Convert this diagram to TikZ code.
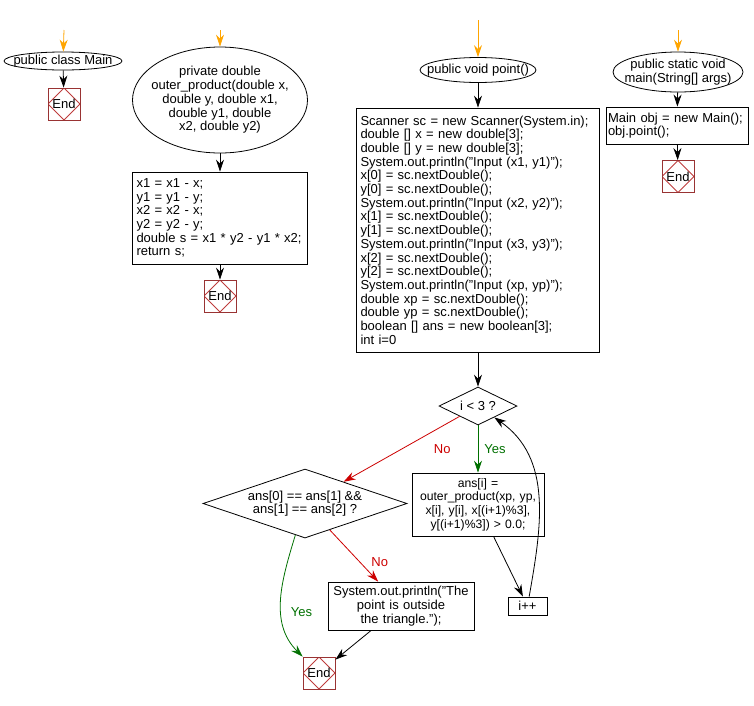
\documentclass[tikz,border=0pt]{standalone}
\usepackage{fontspec}
\setmainfont{Liberation Sans}
\usetikzlibrary{shapes.geometric,arrows.meta}
\definecolor{startorange}{RGB}{255,165,0}
\definecolor{endred}{RGB}{153,51,51}
\definecolor{endline}{RGB}{190,60,60}
\definecolor{nored}{RGB}{204,0,0}
\definecolor{yesgreen}{RGB}{0,112,0}

\tikzset{
    every node/.style={font=\fontsize{13}{13.7}\selectfont},
    arr/.style={line width=0.8pt, -{Stealth[length=12pt,width=8pt]}},
    startarr/.style={arr, startorange},
    startend/.style={draw, line width=0.8pt, ellipse, inner xsep=-11pt, inner ysep=0pt, align=center},
    codebox/.style={draw, line width=0.8pt, rectangle, inner xsep=4pt, inner ysep=0pt},
    decision/.style={draw, line width=0.8pt, diamond, inner sep=0pt, align=center},
    endbox/.style={draw=endred, line width=0.8pt, minimum size=32pt, inner sep=0pt,
        path picture={\draw[endline, line width=0.8pt] (path picture bounding box.north) -- (path picture bounding box.east)
            -- (path picture bounding box.south) -- (path picture bounding box.west) -- cycle;}}
}

\begin{document}
\begin{tikzpicture}[x=1pt, y=-1pt]
    \useasboundingbox (0,0) rectangle (754,705);

    % class Main
    \coordinate (clsin) at (64,30);
    \node[startend, minimum width=118pt, minimum height=18pt] (cls) at (63,61) {public class Main};
    \node[endbox] (clsend) at (64,104) {End};
    \draw[startarr] (clsin) -- (cls);
    \draw[arr] (cls) -- (clsend);

    % outer_product
    \coordinate (opin) at (220,30);
    \node[startend, minimum width=175pt, minimum height=106pt] (op) at (220,100)
        {private double\\ outer\_product(double x,\\ double y, double x1,\\ double y1, double\\ x2, double y2)};
    \node[codebox, minimum width=175pt, minimum height=92pt, text width=167pt, align=left] (opbody) at (220,218)
        {x1 = x1 - x;\\ y1 = y1 - y;\\ x2 = x2 - x;\\ y2 = y2 - y;\\ double s = x1 * y2 - y1 * x2;\\ return s;};
    \node[endbox] (opend) at (220,296) {End};
    \draw[startarr] (opin) -- (op);
    \draw[arr] (op) -- (opbody);
    \draw[arr] (opbody) -- (opend);

    % point()
    \coordinate (ptin) at (478,20);
    \node[startend, minimum width=116pt, minimum height=25pt] (pt) at (478,70) {public void point()};
    \node[codebox, minimum width=243pt, minimum height=244pt, text width=235pt, align=left] (ptbody) at (478,230)
        {Scanner sc = new Scanner(System.in);\\ double [] x = new double[3];\\ double [] y = new double[3];\\
         System.out.println("Input (x1, y1)");\\ x[0] = sc.nextDouble();\\ y[0] = sc.nextDouble();\\
         System.out.println("Input (x2, y2)");\\ x[1] = sc.nextDouble();\\ y[1] = sc.nextDouble();\\
         System.out.println("Input (x3, y3)");\\ x[2] = sc.nextDouble();\\ y[2] = sc.nextDouble();\\
         System.out.println("Input (xp, yp)");\\ double xp = sc.nextDouble();\\ double yp = sc.nextDouble();\\
         boolean [] ans = new boolean[3];\\ int i=0};
    \node[decision, minimum width=78pt, minimum height=38pt, aspect=2] (loop) at (478,406) {i < 3 ?};
    \node[codebox, minimum width=132pt, minimum height=63pt, inner xsep=0pt, text width=132pt, align=center,
        font=\fontsize{12.2}{13.7}\selectfont] (ans) at (478,504.5)
        {ans[i] =\\ outer\_product(xp, yp,\\ x[i], y[i], x[(i+1)\%3],\\ y[(i+1)\%3]) > 0.0;};
    \node[codebox, minimum width=39pt, minimum height=18pt, align=center] (inc) at (527.5,606) {i++};
    \node[decision, minimum width=204pt, minimum height=69pt, aspect=3] (chk) at (305,503.5)
        {ans[0] == ans[1] \&\&\\ ans[1] == ans[2] ?};
    \node[codebox, minimum width=146pt, minimum height=48pt, text width=138pt, align=center] (msg) at (401,606)
        {System.out.println("The\\ point is outside\\ the triangle.");};
    \node[endbox] (chkend) at (319,673) {End};

    \draw[startarr] (ptin) -- (pt);
    \draw[arr] (pt) -- (ptbody);
    \draw[arr] (ptbody) -- (loop);
    \draw[arr, yesgreen] (loop) -- node[midway, xshift=17pt]{Yes} (ans);
    \draw[arr] (ans) -- (inc);
    \draw[arr] (inc) to[out=80, in=-35] (loop);
    \draw[arr, nored] (loop) -- node[pos=0.15, yshift=-23pt]{No} (chk);
    \draw[arr, nored] (chk) -- node[pos=0.62, xshift=20pt]{No} (msg);
    \draw[arr, yesgreen] (chk) to[out=-107, in=135] node[pos=0.6, xshift=20pt]{Yes} (chkend);
    \draw[arr] (msg) -- (chkend);

    % main
    \coordinate (mnin) at (678,30);
    \node[startend, minimum width=130pt, minimum height=40pt] (mn) at (678,72) {public static void\\ main(String[] args)};
    \node[codebox, minimum width=142pt, minimum height=37pt, inner xsep=2pt, text width=138pt, align=left] (mnbody) at (677,125.5)
        {Main obj = new Main();\\ obj.point();};
    \node[endbox] (mnend) at (678,176.5) {End};
    \draw[startarr] (mnin) -- (mn);
    \draw[arr] (mn) -- (mnbody);
    \draw[arr] (mnbody) -- (mnend);
\end{tikzpicture}
\end{document}
